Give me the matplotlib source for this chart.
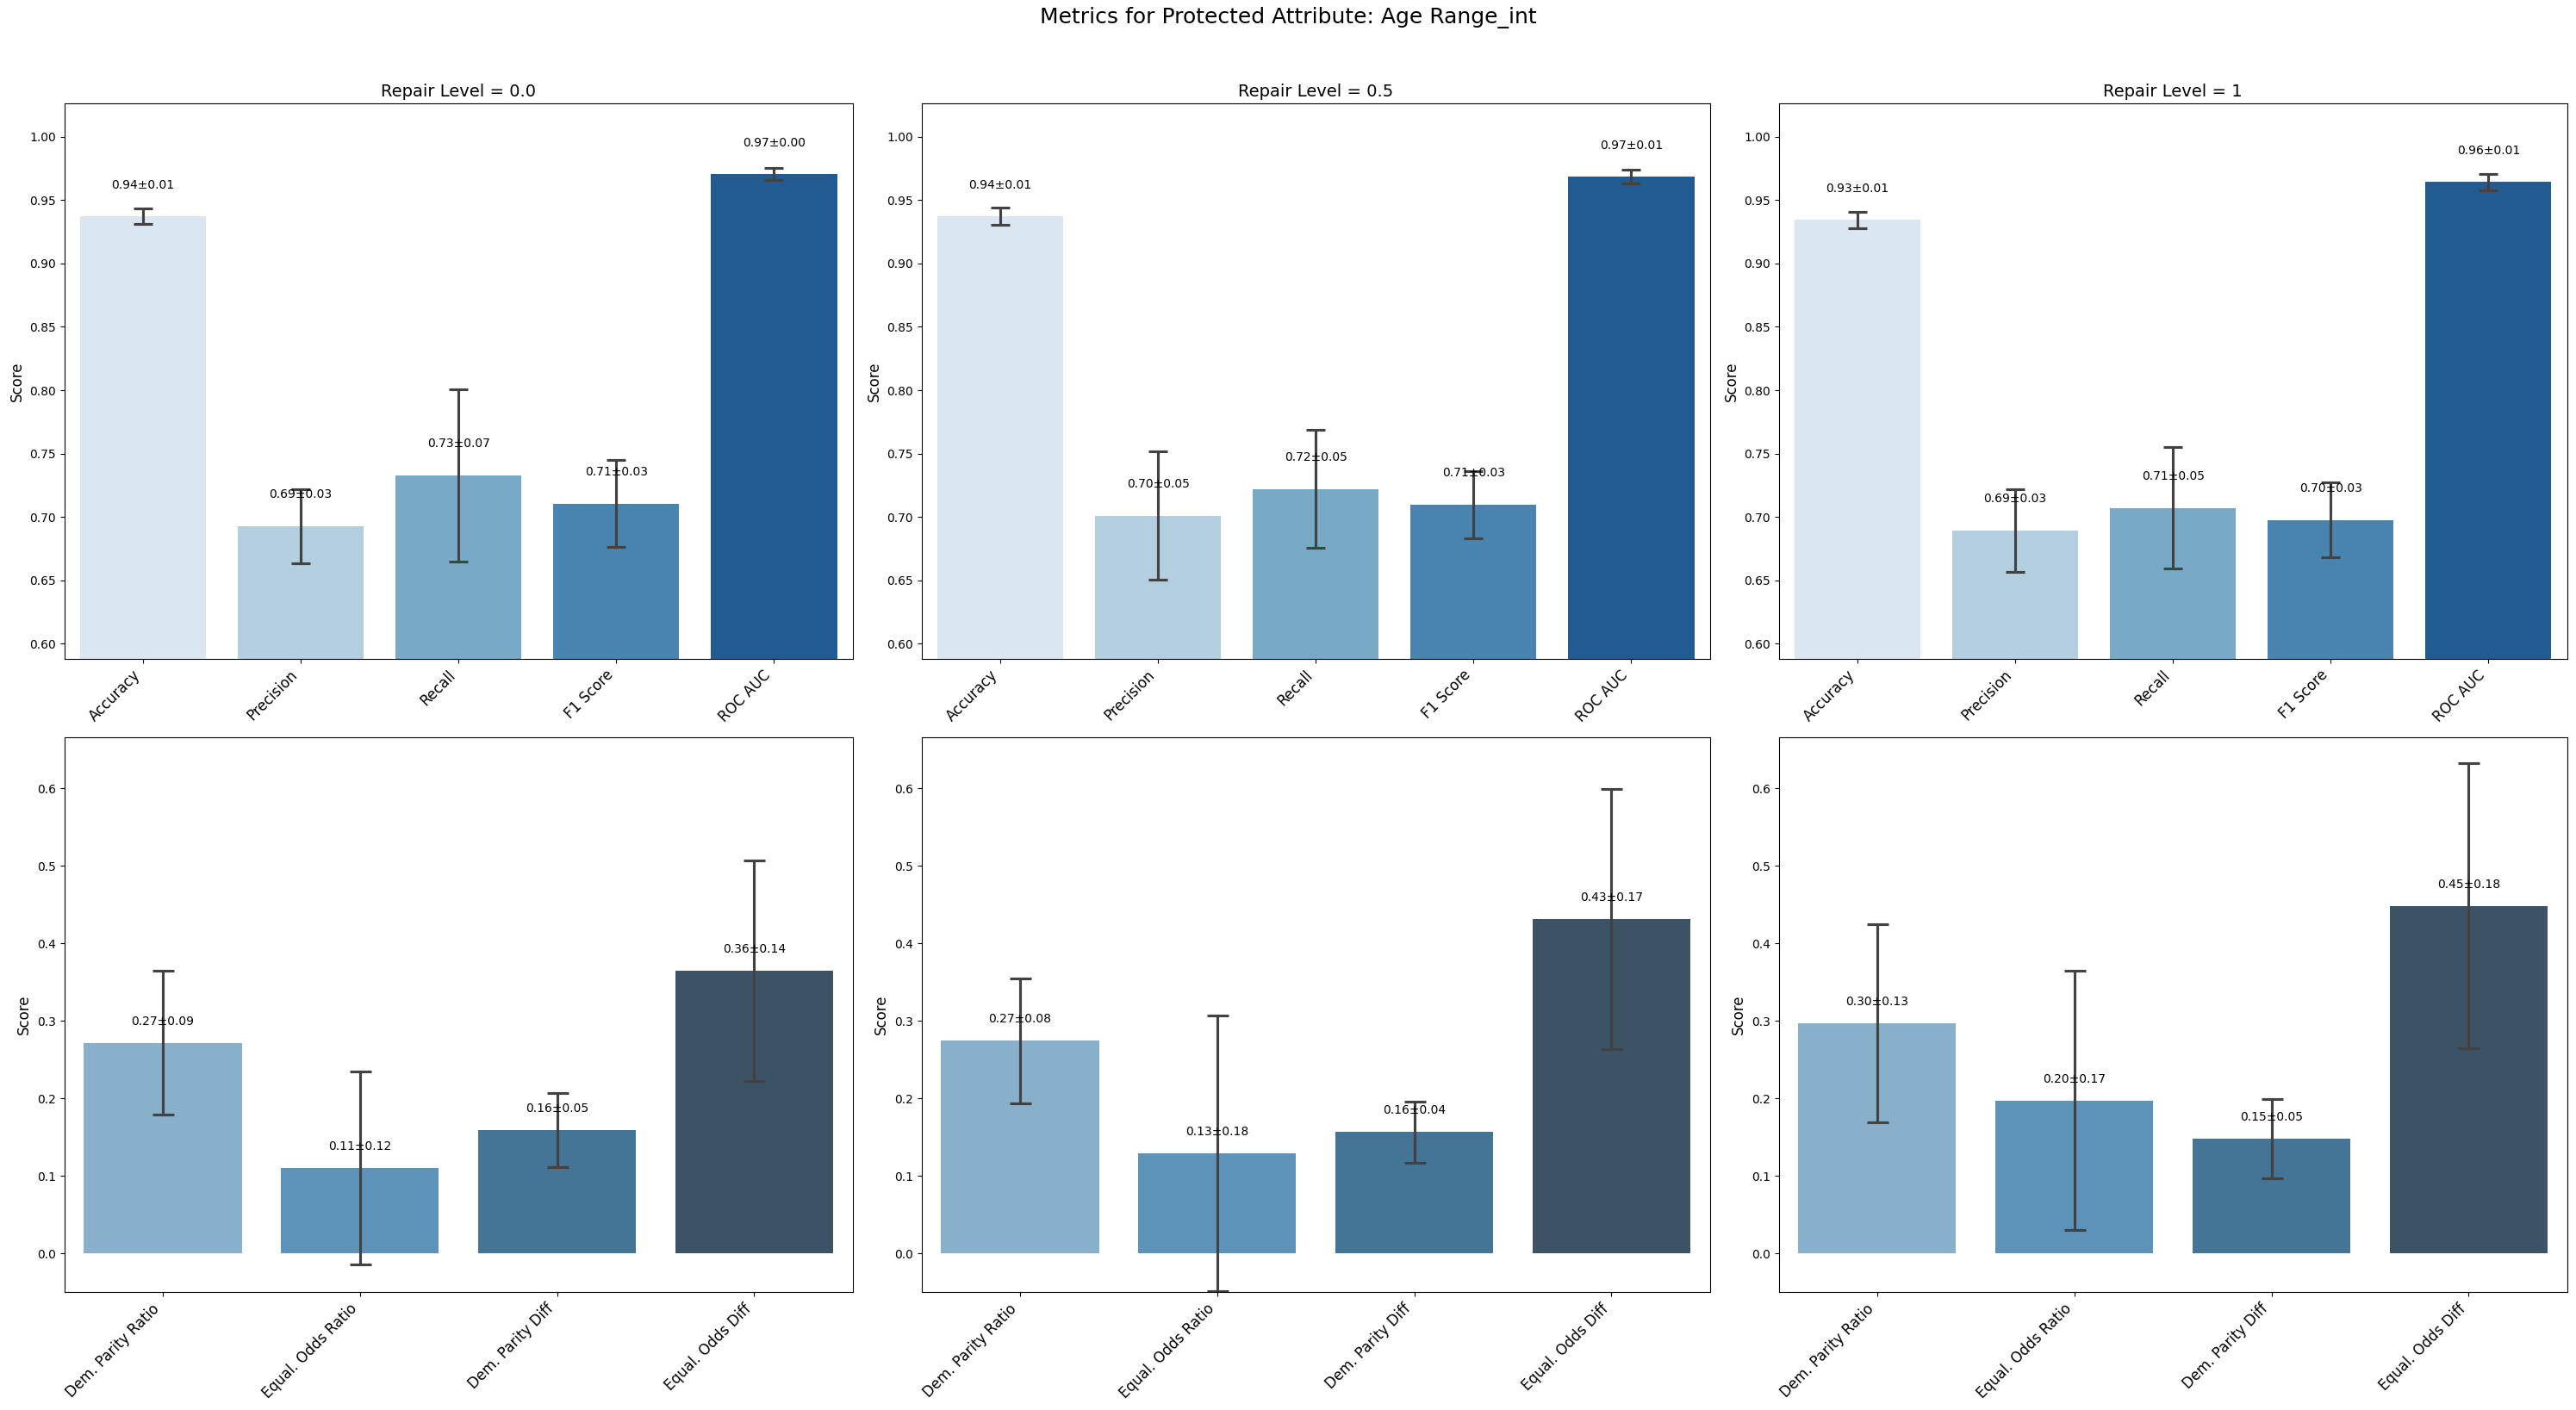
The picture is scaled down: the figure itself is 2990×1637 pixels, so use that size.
import matplotlib
matplotlib.use("Agg")
import matplotlib.pyplot as plt
import seaborn as sns

# 数据
repair_levels = ["0.0", "0.5", "1"]

perf_metrics = ["Accuracy", "Precision", "Recall", "F1 Score", "ROC AUC"]
perf_means = [
    [0.9373, 0.6927, 0.7330, 0.7106, 0.9706],
    [0.9373, 0.7009, 0.7221, 0.7097, 0.9685],
    [0.9345, 0.6894, 0.7070, 0.6976, 0.9642],
]
perf_stds = [
    [0.0062, 0.0294, 0.0679, 0.0345, 0.0046],
    [0.0068, 0.0506, 0.0468, 0.0264, 0.0056],
    [0.0064, 0.0327, 0.0480, 0.0296, 0.0062],
]

fair_metrics = ["Dem. Parity Ratio", "Equal. Odds Ratio", "Dem. Parity Diff", "Equal. Odds Diff"]
fair_means = [
    [0.2718, 0.1107, 0.1593, 0.3650],
    [0.2745, 0.1294, 0.1570, 0.4316],
    [0.2972, 0.1972, 0.1486, 0.4486],
]
fair_stds = [
    [0.0927, 0.1246, 0.0478, 0.1421],
    [0.0808, 0.1780, 0.0395, 0.1680],
    [0.1280, 0.1672, 0.0511, 0.1836],
]

# 画布
fig, axes = plt.subplots(2, 3, figsize=(29.9, 16.37), dpi=100)
fig.subplots_adjust(left=0.02495, right=0.99659, top=0.9264, bottom=0.0834,
                    wspace=0.0871, hspace=0.1413)


def draw(ax, names, means, stds, palette, capsize):
    sns.barplot(x=names, y=means, hue=names, palette=palette, legend=False, ax=ax)
    ax.errorbar(range(len(names)), means, yerr=stds, fmt="none", ecolor=".26",
                elinewidth=2.25, capsize=capsize, capthick=2.25)
    for i, (m, s) in enumerate(zip(means, stds)):
        ax.text(i, m + 0.02, "{:.2f}±{:.2f}".format(m, s), ha="center", va="bottom", fontsize=10)
    ax.set_ylabel("Score", fontsize=12)
    ax.set_xlabel("")
    ax.set_xlim(-0.5, len(names) - 0.5)
    ax.set_xticks(range(len(names)))
    ax.set_xticklabels(names, rotation=45, ha="right", fontsize=12)


for j in range(3):
    ax = axes[0, j]
    draw(ax, perf_metrics, perf_means[j], perf_stds[j], "Blues", 8)
    ax.set_ylim(0.588, 1.026)
    ax.set_title("Repair Level = {}".format(repair_levels[j]), fontsize=14)

    ax = axes[1, j]
    draw(ax, fair_metrics, fair_means[j], fair_stds[j], "Blues_d", 9)
    ax.set_ylim(-0.05, 0.666)

fig.suptitle("Metrics for Protected Attribute: Age Range_int", fontsize=18, y=0.995)

plt.savefig("out.png", dpi=100)
